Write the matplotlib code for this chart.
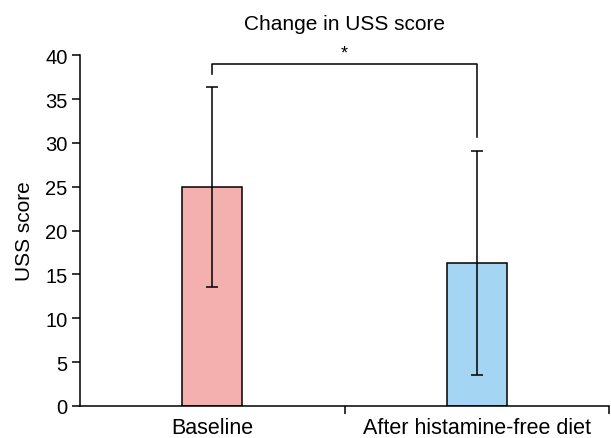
import matplotlib
matplotlib.use("Agg")
import matplotlib.pyplot as plt

plt.rcParams['font.family'] = ['Liberation Sans', 'DejaVu Sans']

# Data
categories = ["Baseline", "After histamine-free diet"]
means = [25.0, 16.3]
sd = [11.4, 12.8]
colors = ["#F4B0AE", "#A4D5F2"]
sig_label = "*"

fig = plt.figure(figsize=(6.11, 4.39), dpi=100)
ax = fig.add_axes([0.131, 0.073, 0.866, 0.799])

xpos = [0.5, 1.5]
ax.bar(xpos, means, width=0.226, color=colors, edgecolor="black", linewidth=1.1, zorder=2)
ax.errorbar(xpos, means, yerr=sd, fmt="none", ecolor="black", elinewidth=1.1,
            capsize=4.5, capthick=1.1, zorder=3)

# significance bracket
top = 39.0
ax.plot([xpos[0], xpos[0], xpos[1], xpos[1]],
        [means[0] + sd[0] + 1.5, top, top, means[1] + sd[1] + 1.6],
        color="black", linewidth=1.1, clip_on=False)
ax.text(sum(xpos) / 2, top + 0.3, sig_label, ha="center", va="bottom", fontsize=13)

ax.set_xlim(0, 2)
ax.set_ylim(0, 40)
ax.set_yticks(range(0, 41, 5))
ax.set_xticks([1.0, 2.0])
ax.set_xticklabels(["", ""])
for x, lab in zip(xpos, categories):
    ax.text(x, -1.3, lab, ha="center", va="top", fontsize=15.5)
ax.tick_params(axis="y", direction="out", length=6, width=1.1, labelsize=14.5, pad=3)
ax.tick_params(axis="x", direction="out", length=6, width=1.1)
ax.spines["top"].set_visible(False)
ax.spines["right"].set_visible(False)
ax.spines["left"].set_linewidth(1.1)
ax.spines["bottom"].set_linewidth(1.1)
ax.set_ylabel("USS score", fontsize=15, labelpad=8)
ax.set_title("Change in USS score", fontsize=15, pad=19)

fig.savefig("out.png", dpi=100)
